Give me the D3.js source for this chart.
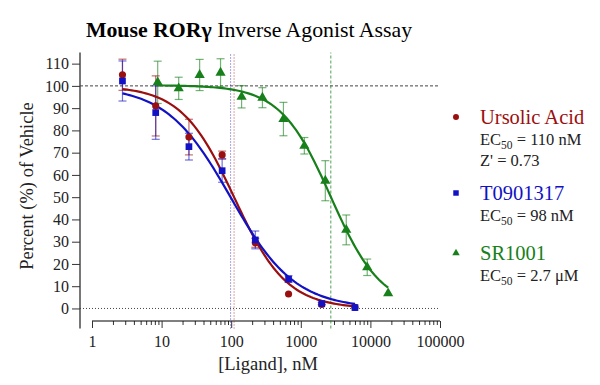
<!DOCTYPE html>
<html>
<head>
<meta charset="utf-8">
<script src="https://cdn.jsdelivr.net/npm/d3@7"></script>
<style>
  body { margin: 0; background: #fff; }
  svg { font-family: "Liberation Serif", "Times New Roman", serif; }
</style>
</head>
<body>
<svg width="600" height="385"></svg>
<script>
// concentrations (nM)
var concUA = [2.74, 8.23, 24.7, 74.1, 222, 667, 2000, 6000];
var concT0 = [2.74, 8.23, 24.7, 74.1, 222, 667, 2000, 6000];
var concSR = [8.79, 17.6, 35.2, 70.3, 141, 281, 563, 1125, 2250, 4500, 9000, 18000];

// percent of vehicle, mean and error
var ursolic = [105, 91, 77, 69, 29.5, 6.5, 1.8, 0.5];
var ursolicErr = [7, 13.5, 8, 1.7, 2, 0, 0, 0];
var t0901317 = [102.2, 88, 72.7, 61.9, 30.8, 13.2, 2.2, 0.4];
var t0901317Err = [9, 12, 6, 5.2, 4, 1.5, 0.5, 0];
var sr1001 = [101.6, 98.9, 104.9, 105.9, 95.1, 94.7, 85.1, 73.1, 57.4, 35.3, 18.5, 6.8];
var sr1001Err = [9.5, 5, 7, 6.3, 5, 4.5, 7.5, 3.7, 9, 6.7, 3.7, 0];

// 4-parameter fits: [top, bottom, EC50, hill]
var fitUA = [100, 0, 110, 1.15];
var fitT0 = [100, 0, 98, 0.94];
var fitSR = [100.3, 0, 2700, 1.2];

var xTicks = [1, 10, 100, 1000, 10000, 100000];
var yTicks = [0, 10, 20, 30, 40, 50, 60, 70, 80, 90, 100, 110];

var colors = {ua: "#9a0f0f", t0: "#1212c4", sr: "#17801a"};

var svg = d3.select("svg");

var x = d3.scaleLog().domain([1, 100000]).range([92, 440]);
var y = d3.scaleLinear().domain([-9, 115]).range([328.5, 52.5]);

// title
var title = svg.append("text")
  .attr("x", 249).attr("y", 37)
  .style("text-anchor", "middle")
  .style("font-size", "21.8px");
title.append("tspan").style("font-weight", "bold").text("Mouse RORγ");
title.append("tspan").text(" Inverse Agonist Assay");

// y axis
var yAxis = svg.append("g")
  .attr("transform", "translate(80,0)")
  .call(d3.axisLeft(y).tickValues(yTicks).tickSize(8).tickPadding(3));
yAxis.select(".domain").attr("d", "M0," + y.range()[0] + "V" + y.range()[1])
  .attr("stroke", "#777").attr("stroke-width", 2);
yAxis.selectAll(".tick line").attr("stroke", "#333");
yAxis.selectAll("text").style("font-size", "16px").style("font-family", "Liberation Serif").attr("fill", "#222");

// x axis, below plot
var minor = [];
for (var d = 1; d < 100000; d *= 10)
  for (var k = 2; k < 10; k++) minor.push(d * k);

var xg = svg.append("g").attr("transform", "translate(0,321)");
xg.append("g")
  .call(d3.axisBottom(x).tickValues(minor).tickSize(4).tickFormat(""))
  .select(".domain").remove();
var xAxis = xg.append("g")
  .call(d3.axisBottom(x).tickValues(xTicks).tickSize(7).tickPadding(8).tickFormat(d3.format("d")));
xAxis.select(".domain").attr("d", "M" + x.range()[0] + ",0H" + x.range()[1]);
xAxis.selectAll("text").style("font-size", "16px").style("font-family", "Liberation Serif").attr("fill", "#222");
xg.selectAll(".tick line").attr("stroke", "#333");

// axis labels
svg.append("text")
  .attr("transform", "translate(33,186) rotate(-90)")
  .style("text-anchor", "middle").style("font-size", "18.5px").attr("fill", "#222")
  .text("Percent (%) of Vehicle");
svg.append("text")
  .attr("x", 268).attr("y", 370)
  .style("text-anchor", "middle").style("font-size", "18.5px").attr("fill", "#222")
  .text("[Ligand], nM");

// reference lines
svg.append("line")
  .attr("x1", 80).attr("x2", 440).attr("y1", y(100)).attr("y2", y(100))
  .attr("stroke", "#444").attr("stroke-dasharray", "3,2");
svg.append("line")
  .attr("x1", 80).attr("x2", 440).attr("y1", y(0)).attr("y2", y(0))
  .attr("stroke", "#444").attr("stroke-dasharray", "1,2");

function vline(v, col, dash) {
  svg.append("line")
    .attr("x1", x(v)).attr("x2", x(v)).attr("y1", y(-9)).attr("y2", y(115))
    .attr("stroke", col).attr("stroke-opacity", 0.75).attr("stroke-dasharray", dash);
}
vline(fitT0[2], colors.t0, "1,2");
vline(fitUA[2], colors.ua, "1,2");
vline(fitSR[2], colors.sr, "3,2");

function logistic(p) {
  return function(c) { return p[1] + (p[0] - p[1]) / (1 + Math.pow(c / p[2], p[3])); };
}

function curve(conc, fit, col) {
  var f = logistic(fit);
  var lo = Math.log10(conc[0]), hi = Math.log10(conc[conc.length - 1]);
  var pts = d3.range(0, 101).map(function(i) { return Math.pow(10, lo + (hi - lo) * i / 100); });
  svg.append("path")
    .datum(pts)
    .attr("fill", "none").attr("stroke", col).attr("stroke-width", 2.2)
    .attr("d", d3.line().x(function(c) { return x(c); }).y(function(c) { return y(f(c)); }));
}

function errbars(conc, vals, errs, col) {
  var g = svg.append("g").attr("stroke", col).attr("stroke-opacity", 0.6).attr("stroke-width", 1.2);
  conc.forEach(function(c, i) {
    if (!errs[i]) return;
    var cx = x(c), y1 = y(vals[i] + errs[i]), y2 = y(vals[i] - errs[i]);
    g.append("line").attr("x1", cx).attr("x2", cx).attr("y1", y1).attr("y2", y2);
    g.append("line").attr("x1", cx - 4).attr("x2", cx + 4).attr("y1", y1).attr("y2", y1);
    g.append("line").attr("x1", cx - 4).attr("x2", cx + 4).attr("y1", y2).attr("y2", y2);
  });
}

function points(conc, vals, col, shape, size) {
  svg.append("g").selectAll("path")
    .data(conc)
    .join("path")
    .attr("transform", function(c, i) { return "translate(" + x(c) + "," + y(vals[i]) + ")"; })
    .attr("d", d3.symbol().type(shape).size(size))
    .attr("fill", col);
}

errbars(concSR, sr1001, sr1001Err, colors.sr);
errbars(concUA, ursolic, ursolicErr, colors.ua);
errbars(concT0, t0901317, t0901317Err, colors.t0);

curve(concSR, fitSR, colors.sr);
curve(concUA, fitUA, colors.ua);
curve(concT0, fitT0, colors.t0);

points(concSR, sr1001, colors.sr, d3.symbolTriangle, 45);
points(concUA, ursolic, colors.ua, d3.symbolCircle, 40);
points(concT0, t0901317, colors.t0, d3.symbolSquare, 45);

// legend
var legend = [
  {name: "Ursolic Acid", col: colors.ua, shape: d3.symbolCircle, size: 28, y: 124, lines: ["EC|50| = 110 nM", "Z' = 0.73"]},
  {name: "T0901317", col: colors.t0, shape: d3.symbolSquare, size: 30, y: 200, lines: ["EC|50| = 98 nM"]},
  {name: "SR1001", col: colors.sr, shape: d3.symbolTriangle, size: 24, y: 260, lines: ["EC|50| = 2.7 μM"]}
];
legend.forEach(function(l) {
  svg.append("path")
    .attr("transform", "translate(456," + (l.y - 7) + ")")
    .attr("d", d3.symbol().type(l.shape).size(l.size))
    .attr("fill", l.col);
  svg.append("text")
    .attr("x", 480).attr("y", l.y)
    .style("font-size", "20.5px").attr("fill", l.col)
    .text(l.name);
  l.lines.forEach(function(s, j) {
    var t = svg.append("text")
      .attr("x", 480).attr("y", l.y + 21 + j * 21)
      .style("font-size", "16.5px").attr("fill", "#222");
    var parts = s.split("|");
    t.append("tspan").text(parts[0]);
    if (parts.length > 1) {
      t.append("tspan").attr("dy", 4).style("font-size", "11.5px").text(parts[1]);
      t.append("tspan").attr("dy", -4).text(parts[2]);
    }
  });
});
</script>
</body>
</html>
